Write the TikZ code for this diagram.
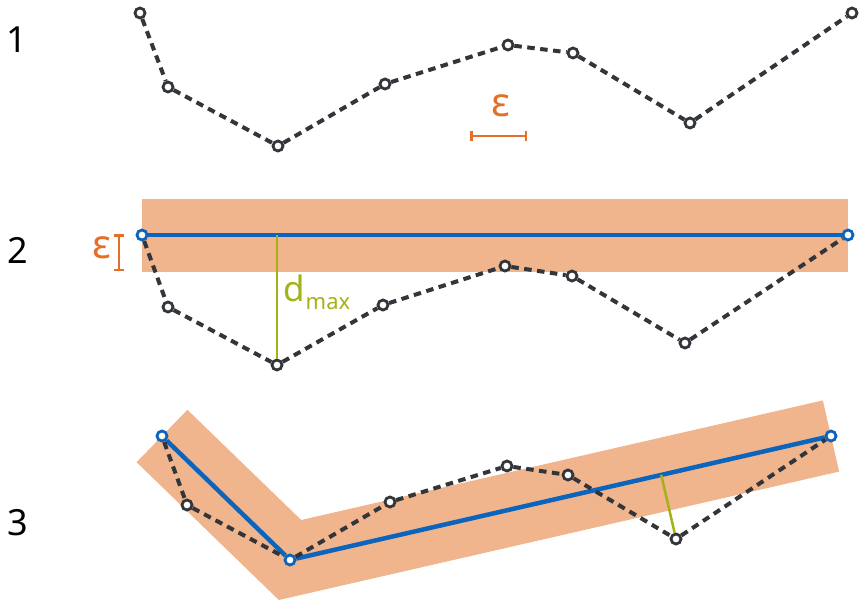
\documentclass[tikz,border=0pt]{standalone}
\usepackage{fontspec}
\setmainfont{Noto Sans}
\usetikzlibrary{calc,arrows.meta,backgrounds}

\definecolor{dark}{RGB}{50,53,58}
\definecolor{tol}{RGB}{240,181,141}
\definecolor{simp}{RGB}{12,100,188}
\definecolor{epscol}{RGB}{228,112,40}
\definecolor{distcol}{RGB}{163,178,22}

\tikzset{
  vertex/.style={circle, draw=dark, fill=white, line width=2.8pt, inner sep=0pt, minimum size=10pt},
  keep/.style={vertex, draw=simp},
  original/.style={draw=dark, line width=4pt, dash pattern=on 7.5pt off 5.5pt},
  simplified/.style={draw=simp, line width=4.5pt},
  dmaxline/.style={draw=distcol, line width=2.5pt},
  tolband/.style={draw=tol, line width=73pt, line cap=butt, line join=miter},
  rowlabel/.style={font=\fontsize{36}{40}\selectfont, text=black, inner sep=0pt},
  epslabel/.style={font=\fontsize{40}{44}\selectfont, text=epscol, inner sep=0pt},
  epsbar/.style={draw=epscol, line width=2.5pt},
}

\begin{document}
\begin{tikzpicture}[x=1pt, y=-1pt]
\useasboundingbox (0,0) rectangle (859,600);

% row labels
\node[rowlabel] (r1) at (17,40) {1};
\node[rowlabel] (r2) at (18,250) {2};
\node[rowlabel] (r3) at (18,523) {3};

% ---------- 1: the original polyline ----------
\node[vertex] (a1) at (140,13) {};
\node[vertex] (a2) at (168,87) {};
\node[vertex] (a3) at (278,146) {};
\node[vertex] (a4) at (385,84) {};
\node[vertex] (a5) at (508,45) {};
\node[vertex] (a6) at (573,53) {};
\node[vertex] (a7) at (690,123) {};
\node[vertex] (a8) at (852,13) {};
\draw[original] (a1) -- (a2) -- (a3) -- (a4) -- (a5) -- (a6) -- (a7) -- (a8);

% tolerance epsilon
\node[epslabel] (eps1) at (501,106) {ε};
\coordinate (e1L) at (470,136);
\coordinate (e1R) at (527,136);
\draw[epsbar, {Bar[width=10pt]}-{Bar[width=10pt]}] (e1L) -- (e1R);

% ---------- 2: first split, end points joined ----------
\node[keep]   (b1) at (142,235) {};
\node[vertex] (b2) at (168,307) {};
\node[vertex] (b3) at (277,365) {};
\node[vertex] (b4) at (383,305) {};
\node[vertex] (b5) at (505,266) {};
\node[vertex] (b6) at (572,276) {};
\node[vertex] (b7) at (685,343) {};
\node[keep]   (b8) at (848,235) {};

\begin{scope}[on background layer]
  \draw[tolband] (b1.center) -- (b8.center);
\end{scope}

\draw[simplified] (b1) -- (b8);
\coordinate (b3top) at (b3 |- b1);
\draw[dmaxline] (b3top) -- (b3);
\node[anchor=base west, text=distcol, inner sep=0pt] (dmax) at (283,301)
  {\fontsize{35}{36}\selectfont d\hspace{1pt}\raisebox{-8pt}{\fontsize{22}{24}\selectfont max}};
\draw[original] (b1) -- (b2) -- (b3) -- (b4) -- (b5) -- (b6) -- (b7) -- (b8);

\node[epslabel] (eps2) at (102,248) {ε};
\coordinate (e2T) at (119,234);
\coordinate (e2B) at (119,271);
\draw[epsbar, {Bar[width=10pt]}-{Bar[width=10pt]}] (e2T) -- (e2B);

% ---------- 3: recursion on both halves ----------
\node[keep]   (c1) at (162,436) {};
\node[vertex] (c2) at (187,505) {};
\node[keep]   (c3) at (290,560) {};
\node[vertex] (c4) at (390,502) {};
\node[vertex] (c5) at (507,466) {};
\node[vertex] (c6) at (568,475) {};
\node[vertex] (c7) at (676,539) {};
\node[keep]   (c8) at (831,436) {};

\begin{scope}[on background layer]
  \draw[tolband] (c1.center) -- (c3.center) -- (c8.center);
\end{scope}

\draw[simplified, line join=round] (c1) -- (c3) -- (c8);
\coordinate (c7foot) at ($(c3.center)!(c7.center)!(c8.center)$);
\draw[dmaxline] (c7foot) -- (c7);
\draw[original] (c1) -- (c2) -- (c3) -- (c4) -- (c5) -- (c6) -- (c7) -- (c8);
\end{tikzpicture}
\end{document}
